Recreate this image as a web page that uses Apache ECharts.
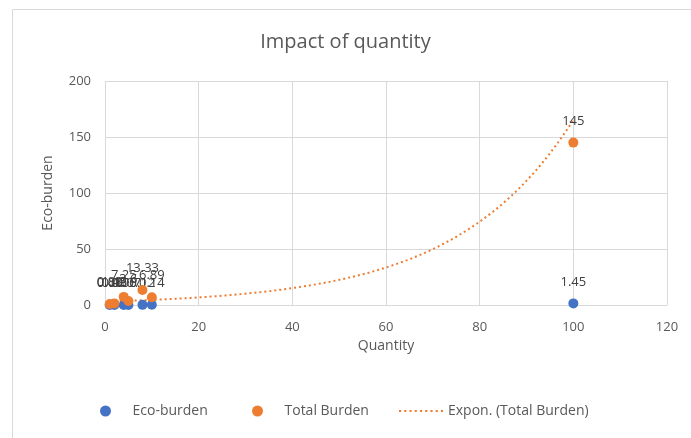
<!DOCTYPE html>
<html>
<head>
<meta charset="utf-8">
<script src="https://cdn.jsdelivr.net/npm/echarts@6/dist/echarts.min.js"></script>
<style>
  html, body { margin: 0; padding: 0; background: #fff; }
  #chart { width: 691px; height: 438px; }
</style>
</head>
<body>
<div id="chart"></div>
<script>
// Quantity values on the x axis
const quantities = [1, 2, 4, 5, 8, 10, 100];
// Eco-burden per quantity
const ecoBurden = [0.0145, 0.029, 0.058, 0.0725, 0.116, 0.145, 1.45];
// Total burden per quantity
const totalBurden = [0.88, 1.45, 7.25, 3.6, 13.33, 6.89, 145];
// Axis ticks
const xTicks = [0, 20, 40, 60, 80, 100, 120];
const yTicks = [0, 50, 100, 150, 200];

// Exponential least-squares fit y = a * e^(b x) on the total burden
function expFit(xs, ys) {
  const n = xs.length;
  const ly = ys.map(Math.log);
  const mx = xs.reduce((s, v) => s + v, 0) / n;
  const my = ly.reduce((s, v) => s + v, 0) / n;
  let sxy = 0, sxx = 0;
  for (let i = 0; i < n; i++) {
    sxy += (xs[i] - mx) * (ly[i] - my);
    sxx += (xs[i] - mx) * (xs[i] - mx);
  }
  const b = sxy / sxx;
  const a = Math.exp(my - b * mx);
  return { a, b };
}
const fit = expFit(quantities, totalBurden);
const xMin = Math.min(...quantities), xMax = Math.max(...quantities);
const trend = [];
for (let i = 0; i <= 120; i++) {
  const x = xMin + (xMax - xMin) * i / 120;
  trend.push([x, fit.a * Math.exp(fit.b * x)]);
}

const fmt = v => String(Math.round(v.value[1] * 100) / 100);

// Dotted legend swatch for the trend line
let dots = 'path://';
for (let i = 0; i < 9; i++) dots += 'M' + (i * 5) + ' 0h2v2h-2z';

const FONT = '"Open Sans", "Noto Sans", sans-serif';
const legendBase = {
  bottom: 15, itemWidth: 44, itemHeight: 11,
  textStyle: { fontFamily: FONT, fontSize: 14, color: '#595959' }
};

const chart = echarts.init(document.getElementById('chart'));
chart.setOption({
  animation: false,
  textStyle: { fontFamily: FONT },
  graphic: [{
    type: 'rect', left: 10, top: 7,
    shape: { width: 690, height: 440 },
    style: { fill: 'none', stroke: '#d9d9d9', lineWidth: 1 }
  }],
  title: {
    text: 'Impact of quantity',
    left: 'center', top: 27,
    textStyle: { fontFamily: FONT, fontSize: 20, fontWeight: 'normal', color: '#595959' }
  },
  grid: { left: 105, right: 24, top: 81, bottom: 133 },
  xAxis: {
    type: 'value', min: xTicks[0], max: xTicks[xTicks.length - 1], interval: xTicks[1] - xTicks[0],
    name: 'Quantity', nameLocation: 'middle', nameGap: 32,
    nameTextStyle: { fontFamily: FONT, fontSize: 14, color: '#595959' },
    axisLine: { show: true, lineStyle: { color: '#d9d9d9' } },
    axisTick: { show: false },
    axisLabel: { fontSize: 13, color: '#595959', margin: 16 },
    splitLine: { show: true, lineStyle: { color: '#d9d9d9' } }
  },
  yAxis: {
    type: 'value', min: yTicks[0], max: yTicks[yTicks.length - 1], interval: yTicks[1] - yTicks[0],
    name: 'Eco-burden', nameLocation: 'middle', nameGap: 50, nameRotate: 90,
    nameTextStyle: { fontFamily: FONT, fontSize: 14, color: '#595959' },
    axisLine: { show: false },
    axisTick: { show: false },
    axisLabel: { fontSize: 13, color: '#595959', margin: 14 },
    splitLine: { show: true, lineStyle: { color: '#d9d9d9' } }
  },
  legend: [
    Object.assign({ left: 95, data: [{ name: 'Eco-burden', icon: 'circle' }] }, legendBase),
    Object.assign({ left: 247, data: [{ name: 'Total Burden', icon: 'circle' }] }, legendBase),
    Object.assign({ left: 394, data: [{ name: 'Expon. (Total Burden)', icon: dots, itemStyle: { color: '#ED7D31' } }] }, legendBase)
  ],
  series: [
    {
      name: 'Total Burden', type: 'scatter', symbolSize: 10, z: 3,
      itemStyle: { color: '#ED7D31', opacity: 1 },
      data: quantities.map((q, i) => [q, totalBurden[i]]),
      label: { show: true, position: 'top', distance: 10, formatter: fmt, fontSize: 13, color: '#404040' }
    },
    {
      name: 'Eco-burden', type: 'scatter', symbolSize: 10, z: 2,
      itemStyle: { color: '#4472C4', opacity: 1 },
      data: quantities.map((q, i) => [q, ecoBurden[i]]),
      label: { show: true, position: 'top', distance: 10, formatter: fmt, fontSize: 13, color: '#404040' }
    },
    {
      name: 'Expon. (Total Burden)', type: 'line', showSymbol: false, symbol: 'none', z: 1,
      data: trend,
      itemStyle: { color: '#ED7D31' },
      lineStyle: { color: '#ED7D31', width: 2, type: [2, 3] }
    }
  ]
});
</script>
</body>
</html>
